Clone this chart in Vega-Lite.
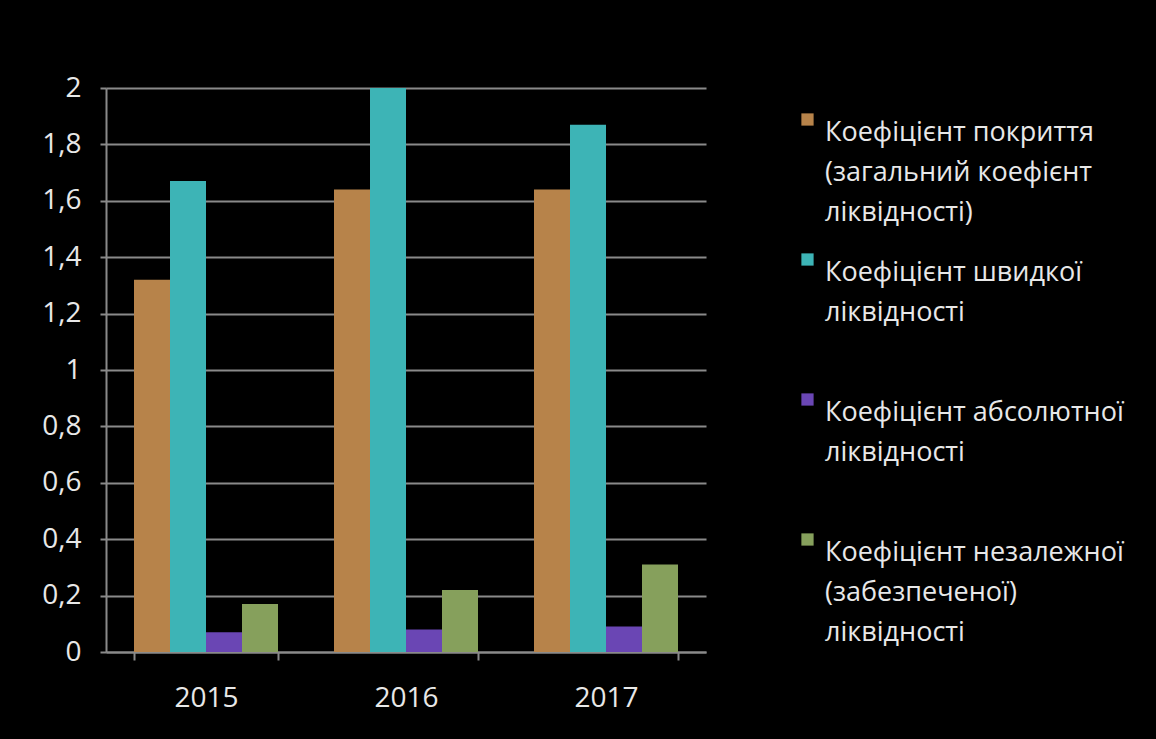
{
  "$schema": "https://vega.github.io/schema/vega-lite/v6.json",
  "autosize": {"type": "none"},
  "padding": {"left": 106, "top": 88, "right": 450, "bottom": 87},
  "width": 600,
  "height": 564,
  "background": "#000000",
  "config": {
    "view": {"stroke": null},
    "font": "Open Sans",
    "style": {"guide-label": {"lineHeight": 40}},
    "axis": {"labelFont": "Open Sans", "labelColor": "#e8e8e8", "labelFontSize": 28, "domainColor": "#8a8a8a", "domainWidth": 2, "tickColor": "#8a8a8a", "tickWidth": 2, "gridColor": "#8a8a8a", "gridWidth": 2}
  },
  "data": {
    "values": [
      {"year": "2015", "series": "Коефіцієнт покриття (загальний коефієнт ліквідності)", "value": 1.32},
      {"year": "2015", "series": "Коефіцієнт швидкої ліквідності", "value": 1.67},
      {"year": "2015", "series": "Коефіцієнт абсолютної ліквідності", "value": 0.07},
      {"year": "2015", "series": "Коефіцієнт незалежної (забезпеченої) ліквідності", "value": 0.17},
      {"year": "2016", "series": "Коефіцієнт покриття (загальний коефієнт ліквідності)", "value": 1.64},
      {"year": "2016", "series": "Коефіцієнт швидкої ліквідності", "value": 2.0},
      {"year": "2016", "series": "Коефіцієнт абсолютної ліквідності", "value": 0.08},
      {"year": "2016", "series": "Коефіцієнт незалежної (забезпеченої) ліквідності", "value": 0.22},
      {"year": "2017", "series": "Коефіцієнт покриття (загальний коефієнт ліквідності)", "value": 1.64},
      {"year": "2017", "series": "Коефіцієнт швидкої ліквідності", "value": 1.87},
      {"year": "2017", "series": "Коефіцієнт абсолютної ліквідності", "value": 0.09},
      {"year": "2017", "series": "Коефіцієнт незалежної (забезпеченої) ліквідності", "value": 0.31}
    ]
  },
  "mark": {"type": "bar"},
  "encoding": {
    "x": {
      "field": "year", "type": "nominal", "title": null,
      "scale": {"paddingInner": 0.28, "paddingOuter": 0.14},
      "axis": {"labelAngle": 0, "labelPadding": 24, "tickSize": 8, "tickBand": "extent", "domain": true}
    },
    "xOffset": {
      "field": "series", "type": "nominal",
      "sort": ["Коефіцієнт покриття (загальний коефієнт ліквідності)", "Коефіцієнт швидкої ліквідності", "Коефіцієнт абсолютної ліквідності", "Коефіцієнт незалежної (забезпеченої) ліквідності"]
    },
    "y": {
      "field": "value", "type": "quantitative", "title": null,
      "scale": {"domain": [0, 2]},
      "axis": {"values": [0, 0.2, 0.4, 0.6, 0.8, 1, 1.2, 1.4, 1.6, 1.8, 2], "labelExpr": "replace(format(datum.value, '.1~f'), '.', ',')", "grid": true, "tickSize": 6, "labelPadding": 19}
    },
    "color": {
      "field": "series", "type": "nominal",
      "sort": ["Коефіцієнт покриття (загальний коефієнт ліквідності)", "Коефіцієнт швидкої ліквідності", "Коефіцієнт абсолютної ліквідності", "Коефіцієнт незалежної (забезпеченої) ліквідності"],
      "scale": {"range": ["#B7834A", "#3DB4B6", "#6A46B4", "#86A05C"]},
      "legend": {
        "title": null, "orient": "none", "legendX": 688, "legendY": 18,
        "symbolType": "square", "symbolSize": 150, "symbolStrokeWidth": 0,
        "labelFont": "Open Sans", "labelFontSize": 27, "labelColor": "#e8e8e8", "labelLimit": 400, "labelOffset": 4,
        "labelExpr": "datum.label == 'Коефіцієнт покриття (загальний коефієнт ліквідності)' ? ['Коефіцієнт покриття', '(загальний коефієнт', 'ліквідності)'] : datum.label == 'Коефіцієнт швидкої ліквідності' ? ['Коефіцієнт швидкої', 'ліквідності'] : datum.label == 'Коефіцієнт абсолютної ліквідності' ? ['Коефіцієнт абсолютної', 'ліквідності'] : ['Коефіцієнт незалежної', '(забезпеченої)', 'ліквідності']",
        "labelBaseline": "top",
        "gridAlign": "all",
        "rowPadding": 20
      }
    }
  }
}
